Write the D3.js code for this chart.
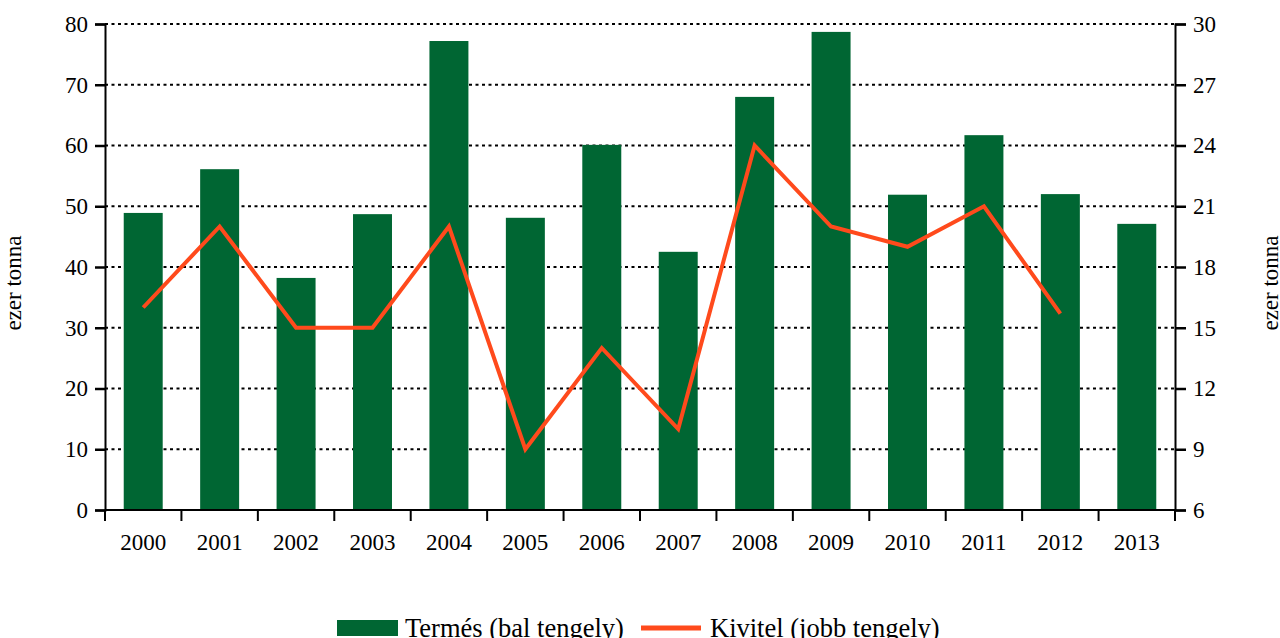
<!DOCTYPE html>
<html><head><meta charset="utf-8">
<script src="https://cdn.jsdelivr.net/npm/d3@7"></script>
<style>body{margin:0;background:#fff}svg text{font-family:"Liberation Serif","Times New Roman",serif;fill:#000}</style>
</head><body>
<svg id="c" width="1280" height="638"></svg>
<script>
const years = ["2000","2001","2002","2003","2004","2005","2006","2007","2008","2009","2010","2011","2012","2013"];
const termes = [48.9,56.1,38.2,48.7,77.2,48.1,60.1,42.5,68.0,78.7,51.9,61.7,52.0,47.1];
const kivitel = [16,20,15,15,20,9,14,10,24,20,19,21,15.7,null];
const leftTicks = [0,10,20,30,40,50,60,70,80];
const rightTicks = [6,9,12,15,18,21,24,27,30];

const svg = d3.select("#c");
const L = 105, R = 1175, T = 24, B = 510;
const x = d3.scaleBand().domain(years).range([L,R]).paddingInner(0.49).paddingOuter(0.245);
const xb = d3.scaleBand().domain(years).range([L,R]);
const yL = d3.scaleLinear().domain([0,80]).range([B,T]);
const yR = d3.scaleLinear().domain([6,30]).range([B,T]);

// grid
svg.append("g").selectAll("line").data(leftTicks.filter(d=>d>0)).join("line")
  .attr("x1",L).attr("x2",R).attr("y1",d=>yL(d)).attr("y2",d=>yL(d))
  .attr("stroke","#000").attr("stroke-width",1.8).attr("stroke-dasharray","3,3.5");

// bars
svg.append("g").selectAll("rect").data(years).join("rect")
  .attr("x",d=>x(d)).attr("width",x.bandwidth())
  .attr("y",(d,i)=>yL(termes[i])).attr("height",(d,i)=>B-yL(termes[i]))
  .attr("fill","#006633");

// line
const line = d3.line().defined(d=>d.v!=null).x(d=>xb(d.y)+xb.bandwidth()/2).y(d=>yR(d.v));
svg.append("path").datum(years.map((y,i)=>({y,v:kivitel[i]})))
  .attr("d",line).attr("fill","none").attr("stroke","#FF4A1C").attr("stroke-width",4).attr("stroke-linejoin","miter");

// axes
const fs = "23px";
const ga = svg.append("g").attr("transform",`translate(${L},0)`)
  .call(d3.axisLeft(yL).tickValues(leftTicks).tickSize(10).tickPadding(7));
const gr = svg.append("g").attr("transform",`translate(${R},0)`)
  .call(d3.axisRight(yR).tickValues(rightTicks).tickSize(11).tickPadding(7));
const gb = svg.append("g").attr("transform",`translate(0,${B})`)
  .call(d3.axisBottom(xb).tickSize(0).tickPadding(24));
// bottom boundary ticks
svg.append("g").selectAll("line").data(d3.range(years.length+1)).join("line")
  .attr("x1",i=>L+i*xb.step()).attr("x2",i=>L+i*xb.step()).attr("y1",B).attr("y2",B+11)
  .attr("stroke","#000").attr("stroke-width",2);
[ga,gr,gb].forEach(g=>{
  g.attr("font-family",null).attr("font-size",null);
  g.select(".domain").attr("stroke","#000").attr("stroke-width",2);
  g.selectAll(".tick line").attr("stroke","#000").attr("stroke-width",2.5);
  g.selectAll("text").style("font-size",fs).style("font-family","'Liberation Serif', serif");
});
gb.select(".domain").attr("d",`M${L},0H${R}`);

// axis titles
svg.append("text").attr("transform","translate(21,283) rotate(-90)").attr("text-anchor","middle")
  .style("font-size","23px").text("ezer tonna");
svg.append("text").attr("transform","translate(1278,283) rotate(-90)").attr("text-anchor","middle")
  .style("font-size","23px").text("ezer tonna");

// legend
const lg = svg.append("g");
lg.append("rect").attr("x",337).attr("y",620).attr("width",61).attr("height",16).attr("fill","#006633");
lg.append("text").attr("x",405).attr("y",637).style("font-size","26.5px").text("Termés (bal tengely)");
lg.append("line").attr("x1",641).attr("x2",701).attr("y1",628).attr("y2",628).attr("stroke","#FF4A1C").attr("stroke-width",5);
lg.append("text").attr("x",710).attr("y",637).style("font-size","26.5px").text("Kivitel (jobb tengely)");
</script>
</body></html>
